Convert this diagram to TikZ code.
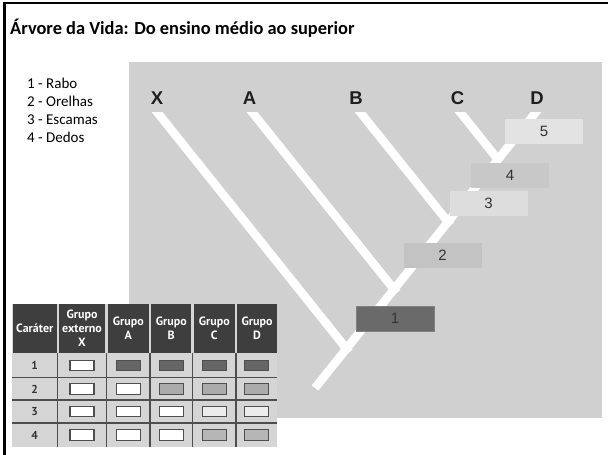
\documentclass[tikz,border=0pt]{standalone}
\usepackage{fontspec}
\setmainfont{Carlito}
\newfontfamily\treefont{Liberation Sans}
\newfontfamily\tabfont{PT Sans}
\usetikzlibrary{calc}
\definecolor{panelgray}{HTML}{D0D0D0}
\definecolor{tablebg}{HTML}{D5D5D5}
\definecolor{headdark}{HTML}{3E3E3E}
\definecolor{gridline}{HTML}{4E4E4E}
\definecolor{cdark}{HTML}{666666}
\definecolor{cmid}{HTML}{ABABAB}
\definecolor{clight}{HTML}{ECECEC}
\definecolor{cmid2}{HTML}{B6B6B6}
\definecolor{boxone}{HTML}{6A6A6A}
\definecolor{boxtwo}{HTML}{C3C3C3}
\definecolor{boxthree}{HTML}{DDDDDD}
\definecolor{boxfour}{HTML}{C8C8C8}
\definecolor{boxfive}{HTML}{E3E3E3}
\definecolor{labeltext}{HTML}{1E1E1E}
\definecolor{numtext}{HTML}{333333}
\begin{document}
\begin{tikzpicture}[x=1pt,y=-1pt,
  titletext/.style={anchor=base west, inner sep=0pt, font=\fontsize{18.4}{22}\selectfont\bfseries},
  legendtext/.style={anchor=base west, inner sep=0pt, font=\fontsize{15}{18}\selectfont},
  taxon/.style={anchor=base, inner sep=0pt, text=labeltext, font=\treefont\fontsize{18.5}{20}\selectfont\bfseries},
  branch/.style={draw=white, line width=8.5pt, line cap=butt},
  charbox/.style={minimum width=78pt, minimum height=25pt, inner sep=0pt, text=numtext, font=\treefont\fontsize{15}{17}\selectfont},
  headcell/.style={fill=headdark, text=white, inner sep=0pt, align=center, minimum height=49pt, font=\tabfont\fontsize{12}{14}\selectfont\bfseries},
  rownum/.style={inner sep=0pt, text=numtext, font=\tabfont\fontsize{11.5}{13}\selectfont\bfseries},
  cellmark/.style={draw=gridline, line width=1.1pt, minimum width=24pt, minimum height=10.5pt, inner sep=0pt},
  gridrule/.style={draw=gridline, line width=1.4pt}
]
\useasboundingbox (0,0) rectangle (608,455);
\fill[white] (0,0) rectangle (608,455);
% frame
\draw[black, line width=2.5pt] (4.5,455) -- (4.5,3) -- (608,3);
% title and legend
\node[titletext] (title) at (10,34.5) {Árvore da Vida: Do ensino médio ao superior};
\node[legendtext] (l1) at (27,88.5) {1 - Rabo};
\node[legendtext] (l2) at (27,106.5) {2 - Orelhas};
\node[legendtext] (l3) at (27,124.5) {3 - Escamas};
\node[legendtext] (l4) at (27,142.5) {4 - Dedos};
% panel
\fill[panelgray] (129,62) rectangle (602,418);
% tree
\coordinate (root) at (315,388);
\coordinate (tD) at (536,112);
\coordinate (tX) at (157,112);
\coordinate (tA) at (252,112);
\coordinate (tB) at (360,112);
\coordinate (tC) at (460,112);
\coordinate (jX) at (346.5,348.7);
\coordinate (jA) at (394.0,289.3);
\coordinate (jB) at (448.0,221.9);
\coordinate (jC) at (498.0,159.5);
\begin{scope}
\clip (129,112) rectangle (602,418);
\draw[branch] (root) -- ($(root)!1.03!(tD)$);
\draw[branch] ($(jX)!1.03!(tX)$) -- ($(tX)!1.015!(jX)$);
\draw[branch] ($(jA)!1.04!(tA)$) -- ($(tA)!1.02!(jA)$);
\draw[branch] ($(jB)!1.06!(tB)$) -- ($(tB)!1.03!(jB)$);
\draw[branch] ($(jC)!1.12!(tC)$) -- ($(tC)!1.06!(jC)$);
\end{scope}
\node[taxon] (nX) at (157,104) {X};
\node[taxon] (nA) at (249.5,104) {A};
\node[taxon] (nB) at (356,104) {B};
\node[taxon] (nC) at (457.5,104) {C};
\node[taxon] (nD) at (537,104) {D};
% character boxes
\node[charbox, fill=boxone, draw=gray, line width=0.6pt] (b1) at (395,318.5) {1};
\node[charbox, fill=boxtwo] (b2) at (442.5,255) {2};
\node[charbox, fill=boxthree] (b3) at (488.5,203) {3};
\node[charbox, fill=boxfour] (b4) at (510,175) {4};
\node[charbox, fill=boxfive] (b5) at (544,131.5) {5};
% table
\fill[tablebg] (12,304) rectangle (277,447);
\node[headcell, minimum width=44.3pt] (hK) at (34.75,328.5) {Caráter};
\node[headcell, minimum width=46.6pt] (hX) at (82,328.5) {Grupo\\externo\\X};
\node[headcell, minimum width=41.1pt] (hA) at (128.25,328.5) {Grupo\\A};
\node[headcell, minimum width=40.1pt] (hB) at (171.25,328.5) {Grupo\\B};
\node[headcell, minimum width=41.1pt] (hC) at (214.25,328.5) {Grupo\\C};
\node[headcell, minimum width=39.8pt] (hD) at (257.1,328.5) {Grupo\\D};
% grid
\draw[gridrule] (12,377.5) -- (277,377.5);
\draw[gridrule] (12,400) -- (277,400);
\draw[gridrule] (12,423) -- (277,423);
\foreach \xx in {57.5,106.5,150,192.5,236} \draw[gridrule] (\xx,353) -- (\xx,447);
% row numbers
\node[rownum] (r1) at (34.75,365.5) {1};
\node[rownum] (r2) at (34.75,389) {2};
\node[rownum] (r3) at (34.75,411.5) {3};
\node[rownum] (r4) at (34.75,435) {4};
% marks: columns X A B C D
\foreach \cx/\cy/\cc/\nm in {
 82/365.5/white/m1x, 128.3/365.5/cdark/m1a, 171.3/365.5/cdark/m1b, 214.3/365.5/cdark/m1c, 256.5/365.5/cdark/m1d,
 82/389/white/m2x, 128.3/389/white/m2a, 171.3/389/cmid/m2b, 214.3/389/cmid/m2c, 256.5/389/cmid/m2d,
 82/411.5/white/m3x, 128.3/411.5/white/m3a, 171.3/411.5/white/m3b, 214.3/411.5/clight/m3c, 256.5/411.5/clight/m3d,
 82/435/white/m4x, 128.3/435/white/m4a, 171.3/435/white/m4b, 214.3/435/cmid2/m4c, 256.5/435/cmid2/m4d}
 \node[cellmark, fill=\cc] (\nm) at (\cx,\cy) {};
\end{tikzpicture}
\end{document}
